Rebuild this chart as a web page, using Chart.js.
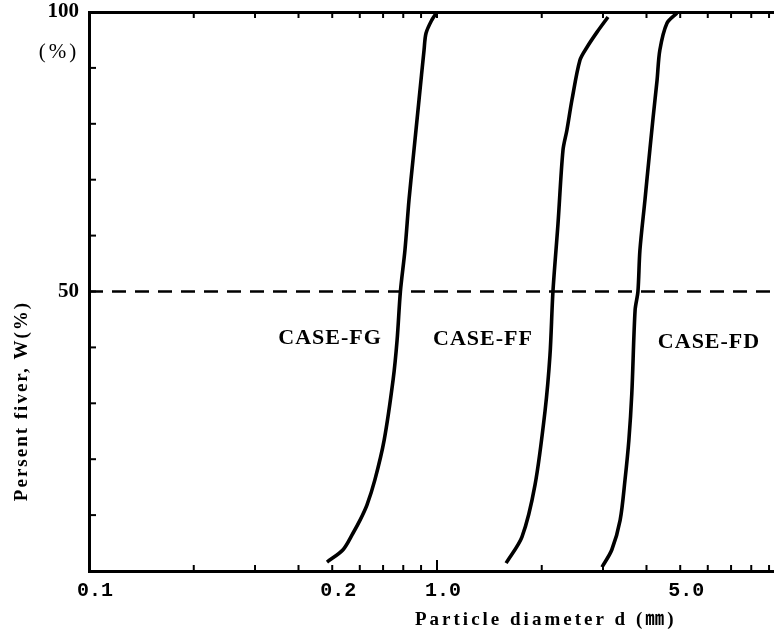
<!DOCTYPE html>
<html>
<head>
<meta charset="utf-8">
<script src="https://cdn.jsdelivr.net/npm/chart.js@4/dist/chart.umd.min.js"></script>
<style>
html,body{margin:0;padding:0;background:#fff;overflow:hidden;}
#wrap{width:774px;height:636px;}
</style>
</head>
<body>
<div id="wrap"><canvas id="c" width="774" height="636"></canvas></div>
<script>
// ---- data ----
const fgX = [0.483,0.537,0.574,0.601,0.629,0.663,0.705,0.748,0.768,0.785,0.809,0.831,0.853,0.888,0.918,0.930,0.967,1.0];
const fgY = [1.6,3.8,6.8,9.1,11.8,16.3,23.4,34.2,41.3,50.0,57.4,66.4,73.5,84.3,93.2,96.2,98.6,100];
const ffX = [1.58,1.755,1.913,2.044,2.112,2.154,2.227,2.302,2.363,2.443,2.576,2.698,2.883,3.10];
const ffY = [1.4,6.1,15.4,28.6,38.6,50.0,62.1,75.3,78.9,84.3,91.4,93.7,96.4,99.1];
const fdX = [2.98,3.18,3.36,3.47,3.56,3.63,3.71,3.78,3.83,3.96,4.01,4.18,4.29,4.37,4.58,4.89];
const fdY = [0.7,3.8,9.1,16.3,23.4,31.8,46.7,50.0,57.4,66.4,69.9,81.2,87.8,93.2,98.0,99.8];
const refX = [0.1, 9.3];
const refY = [50, 50];
const xTickValues = [0.1,0.2,0.3,0.4,0.5,0.6,0.7,0.8,0.9,1,2,3,4,5,6,7,8,9];
const xTickLabels = {"0.1":"0.1","0.5":"0.2","1":"1.0","5":"5.0"};
const yTickValues = [0,10,20,30,40,50,60,70,80,90,100];
const yTickLabels = {"50":"50","100":"100"};
const caseLabels = ["CASE-FG","CASE-FF","CASE-FD"];
const caseLabelX = [0.493, 1.356, 6.05];
const caseLabelY = [41.6, 41.4, 40.9];
const xTitle = "Particle diameter d (\u339C)";
const yTitle = "Persent fiver, W(%)";
const yUnit = "(%)";

const pts = (xs, ys) => xs.map((x, i) => ({x: x, y: ys[i]}));
const SERIF = '"Liberation Serif", "DejaVu Serif", "Noto Sans CJK JP", serif';

const curve = (label, xs, ys) => ({
  label: label, data: pts(xs, ys), borderColor: '#000', borderWidth: 3.6,
  pointRadius: 0, tension: 0.3, fill: false
});

const decor = {
  id: 'decor',
  afterDraw(chart) {
    const ctx = chart.ctx, x = chart.scales.x, y = chart.scales.y, a = chart.chartArea;
    ctx.save();
    ctx.strokeStyle = '#000';
    ctx.lineWidth = 2;
    // inward tick marks
    xTickValues.forEach(v => {
      const px = x.getPixelForValue(v);
      if (px <= a.left + 1 || px > a.right) return;
      const big = (v === 1);
      ctx.beginPath(); ctx.moveTo(px, a.bottom); ctx.lineTo(px, a.bottom - (big ? 11 : 6)); ctx.stroke();
      ctx.beginPath(); ctx.moveTo(px, a.top); ctx.lineTo(px, a.top + 6); ctx.stroke();
    });
    yTickValues.forEach(v => {
      if (v === 0 || v === 100) return;
      const py = y.getPixelForValue(v);
      ctx.beginPath(); ctx.moveTo(a.left, py); ctx.lineTo(a.left + 7, py); ctx.stroke();
    });
    // texts
    ctx.fillStyle = '#000';
    ctx.textAlign = 'center';
    ctx.textBaseline = 'middle';
    ctx.letterSpacing = '1px';
    ctx.font = 'bold 22px ' + SERIF;
    caseLabels.forEach((t, i) => {
      ctx.fillText(t, x.getPixelForValue(caseLabelX[i]), y.getPixelForValue(caseLabelY[i]));
    });
    ctx.letterSpacing = '3px';
    ctx.font = '21px ' + SERIF;
    ctx.textAlign = 'center';
    ctx.fillText(yUnit, 59, y.getPixelForValue(100) + 40);
    ctx.letterSpacing = '3px';
    ctx.font = 'bold 19px ' + SERIF;
    ctx.textAlign = 'left';
    ctx.fillText(xTitle, 415, 620);
    ctx.save();
    ctx.translate(22, 401);
    ctx.rotate(-Math.PI / 2);
    ctx.textAlign = 'center';
    ctx.letterSpacing = '2px';
    ctx.font = 'bold 19px ' + SERIF;
    ctx.fillText(yTitle, 0, 0);
    ctx.restore();
    ctx.restore();
  }
};

new Chart(document.getElementById('c'), {
  type: 'line',
  data: {
    datasets: [
      curve('CASE-FG', fgX, fgY),
      curve('CASE-FF', ffX, ffY),
      curve('CASE-FD', fdX, fdY),
      { label: '50%', data: pts(refX, refY), borderColor: '#000', borderWidth: 2.5,
        borderDash: [14, 9], pointRadius: 0, fill: false }
    ]
  },
  options: {
    responsive: false,
    devicePixelRatio: 1,
    animation: false,
    events: [],
    layout: { padding: 0 },
    plugins: { legend: { display: false }, tooltip: { enabled: false } },
    scales: {
      x: {
        type: 'logarithmic', position: 'bottom', min: refX[0], max: refX[1],
        afterBuildTicks: s => { s.ticks = xTickValues.map(v => ({value: v})); },
        afterFit: s => { s.height = 65; s.paddingLeft = 0; s.paddingRight = 0; },
        grid: { display: false, drawTicks: false },
        border: { display: true, width: 3, color: '#000' },
        ticks: {
          autoSkip: false, maxRotation: 0, minRotation: 0, padding: 8, labelOffset: 6, color: '#000',
          font: { family: '"Liberation Mono", "DejaVu Sans Mono", monospace', weight: 'bold', size: 20 },
          callback: v => xTickLabels[String(+v.toFixed(3))] || ''
        }
      },
      x2: {
        type: 'logarithmic', position: 'top', min: refX[0], max: refX[1],
        afterFit: s => { s.height = 12; s.paddingLeft = 0; s.paddingRight = 0; },
        grid: { display: false, drawTicks: false },
        border: { display: true, width: 3, color: '#000' },
        ticks: { display: false }
      },
      y: {
        type: 'linear', min: 0, max: 100,
        afterBuildTicks: s => { s.ticks = yTickValues.map(v => ({value: v})); },
        afterFit: s => { s.width = 89; s.paddingTop = 0; s.paddingBottom = 0; },
        grid: { display: false, drawTicks: false },
        border: { display: true, width: 3, color: '#000' },
        ticks: {
          autoSkip: false, padding: 10, color: '#000',
          font: { family: SERIF, weight: 'bold', size: 21 },
          callback: v => yTickLabels[String(v)] || ''
        }
      }
    }
  },
  plugins: [decor]
});
</script>
</body>
</html>
